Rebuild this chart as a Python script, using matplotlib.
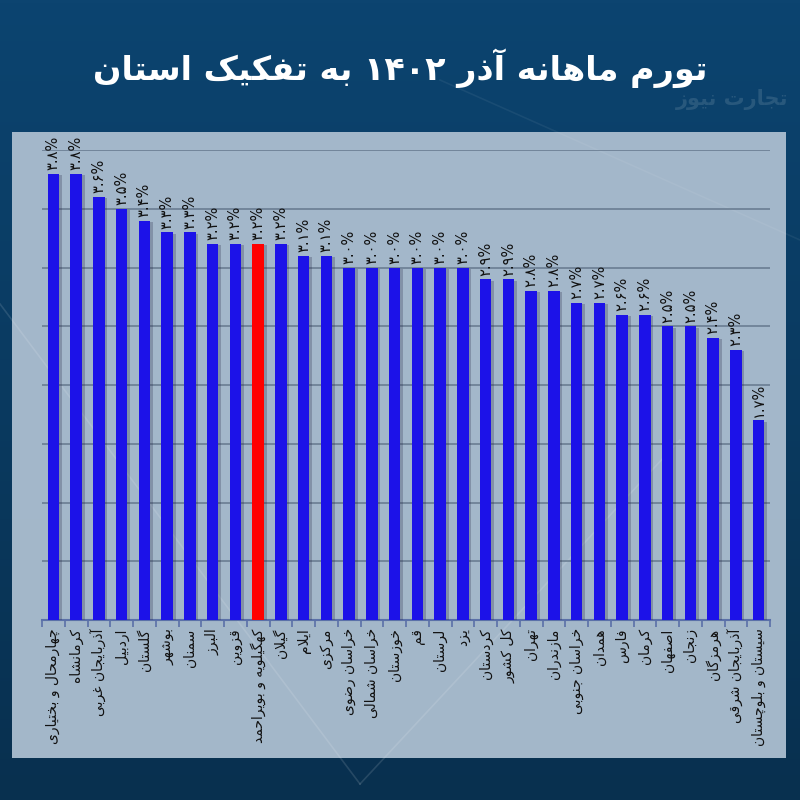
import re
import matplotlib
matplotlib.use("Agg")
import matplotlib.pyplot as plt
import matplotlib.patheffects as pe
from matplotlib.patches import Rectangle
import numpy as np

# provinces (logical Persian order) and monthly inflation, Azar 1402
provinces = [
    "چهارمحال و بختیاری", "کرمانشاه", "آذربایجان غربی", "اردبیل", "گلستان",
    "بوشهر", "سمنان", "البرز", "قزوین", "کهگیلویه و بویراحمد", "گیلان",
    "ایلام", "مرکزی", "خراسان رضوی", "خراسان شمالی", "خوزستان", "قم",
    "لرستان", "یزد", "کردستان", "کل کشور", "تهران", "مازندران",
    "خراسان جنوبی", "همدان", "فارس", "کرمان", "اصفهان", "زنجان",
    "هرمزگان", "آذربایجان شرقی", "سیستان و بلوچستان",
]
inflation = [3.8, 3.8, 3.6, 3.5, 3.4, 3.3, 3.3, 3.2, 3.2, 3.2, 3.2,
             3.1, 3.1, 3.0, 3.0, 3.0, 3.0, 3.0, 3.0, 2.9, 2.9, 2.8, 2.8,
             2.7, 2.7, 2.6, 2.6, 2.5, 2.5, 2.4, 2.3, 1.7]
highlight = "کهگیلویه و بویراحمد"
title = "تورم ماهانه آذر ۱۴۰۲ به تفکیک استان"

# --- minimal Persian shaping (presentation forms) + visual reordering ---
# (isolated, final, initial, medial); two entries = right-joining only
FORMS = {
    "ا": (0xFE8D, 0xFE8E), "آ": (0xFE81, 0xFE82),
    "ب": (0xFE8F, 0xFE90, 0xFE91, 0xFE92), "پ": (0xFB56, 0xFB57, 0xFB58, 0xFB59),
    "ت": (0xFE95, 0xFE96, 0xFE97, 0xFE98), "ث": (0xFE99, 0xFE9A, 0xFE9B, 0xFE9C),
    "ج": (0xFE9D, 0xFE9E, 0xFE9F, 0xFEA0), "چ": (0xFB7A, 0xFB7B, 0xFB7C, 0xFB7D),
    "ح": (0xFEA1, 0xFEA2, 0xFEA3, 0xFEA4), "خ": (0xFEA5, 0xFEA6, 0xFEA7, 0xFEA8),
    "د": (0xFEA9, 0xFEAA), "ذ": (0xFEAB, 0xFEAC), "ر": (0xFEAD, 0xFEAE),
    "ز": (0xFEAF, 0xFEB0), "ژ": (0xFB8A, 0xFB8B),
    "س": (0xFEB1, 0xFEB2, 0xFEB3, 0xFEB4), "ش": (0xFEB5, 0xFEB6, 0xFEB7, 0xFEB8),
    "ص": (0xFEB9, 0xFEBA, 0xFEBB, 0xFEBC), "ض": (0xFEBD, 0xFEBE, 0xFEBF, 0xFEC0),
    "ط": (0xFEC1, 0xFEC2, 0xFEC3, 0xFEC4), "ظ": (0xFEC5, 0xFEC6, 0xFEC7, 0xFEC8),
    "ع": (0xFEC9, 0xFECA, 0xFECB, 0xFECC), "غ": (0xFECD, 0xFECE, 0xFECF, 0xFED0),
    "ف": (0xFED1, 0xFED2, 0xFED3, 0xFED4), "ق": (0xFED5, 0xFED6, 0xFED7, 0xFED8),
    "ک": (0xFB8E, 0xFB8F, 0xFB90, 0xFB91), "گ": (0xFB92, 0xFB93, 0xFB94, 0xFB95),
    "ل": (0xFEDD, 0xFEDE, 0xFEDF, 0xFEE0), "م": (0xFEE1, 0xFEE2, 0xFEE3, 0xFEE4),
    "ن": (0xFEE5, 0xFEE6, 0xFEE7, 0xFEE8), "و": (0xFEED, 0xFEEE),
    "ه": (0xFEE9, 0xFEEA, 0xFEEB, 0xFEEC), "ی": (0xFBFC, 0xFBFD, 0xFBFE, 0xFBFF),
}
LAM_ALEF = {"ا": (0xFEFB, 0xFEFC), "آ": (0xFEF5, 0xFEF6)}


def shape(text):
    out = []
    i = 0
    n = len(text)
    while i < n:
        c = text[i]
        if c not in FORMS:
            out.append(c)
            i += 1
            continue
        prev = text[i - 1] if i > 0 else ""
        joins_prev = prev in FORMS and len(FORMS[prev]) == 4
        if c == "ل" and i + 1 < n and text[i + 1] in LAM_ALEF:
            lig = LAM_ALEF[text[i + 1]]
            out.append(chr(lig[1] if joins_prev else lig[0]))
            i += 2
            continue
        f = FORMS[c]
        nxt = text[i + 1] if i + 1 < n else ""
        joins_next = len(f) == 4 and nxt in FORMS
        if joins_prev and joins_next:
            out.append(chr(f[3]))
        elif joins_prev:
            out.append(chr(f[1]))
        elif joins_next:
            out.append(chr(f[2]))
        else:
            out.append(chr(f[0]))
        i += 1
    return "".join(out)


def fa(text):
    vis = shape(text)[::-1]
    # digits stay left-to-right
    return re.sub(r"[0-9\u06F0-\u06F9.%]+", lambda m: m.group(0)[::-1], vis)


def fa_num(v):
    s = f"{v:.1f}%"
    return s.translate(str.maketrans("0123456789", "۰۱۲۳۴۵۶۷۸۹"))


plt.rcParams["font.family"] = ["DejaVu Sans"]

fig = plt.figure(figsize=(8, 8), dpi=100)

# background
bg = fig.add_axes([0, 0, 1, 1], zorder=-10)
grad = np.linspace(0, 1, 256).reshape(-1, 1)
bg.imshow(grad, aspect="auto", extent=[0, 1, 0, 1], origin="upper",
          cmap=matplotlib.colors.LinearSegmentedColormap.from_list(
              "bgc", ["#0c4470", "#0a3a60", "#08304f"]))
bg.plot([0.0, 0.45], [0.62, 0.02], color="white", alpha=0.12, lw=1.2)
bg.plot([0.45, 0.85], [0.02, 0.45], color="white", alpha=0.12, lw=1.2)
bg.plot([0.55, 1.0], [0.9, 0.7], color="white", alpha=0.06, lw=1.2)
bg.set_xlim(0, 1)
bg.set_ylim(0, 1)
bg.axis("off")

# light panel
bg.add_patch(Rectangle((0.015, 0.0525), 0.9675, 0.7825,
                       facecolor="#aabdcf", edgecolor="none", alpha=0.96))

bg.text(0.915, 0.875, fa("تجارت نیوز"), color="white", alpha=0.12,
        fontsize=15, fontweight="bold", ha="center", va="center")

fig.text(0.5, 0.915, fa(title), color="white", fontsize=24,
         fontweight="bold", ha="center", va="center")

ax = fig.add_axes([0.0525, 0.225, 0.91, 0.5875])
ax.set_facecolor("none")

x = np.arange(len(provinces))
colors = ["#ff0000" if p == highlight else "#1c12e8" for p in provinces]
bars = ax.bar(x, inflation, width=0.5, color=colors, zorder=3)
for b in bars:
    b.set_path_effects([pe.SimplePatchShadow(offset=(2, -1), alpha=0.25,
                                             shadow_rgbFace="#202040"),
                        pe.Normal()])

for xi, v in zip(x, inflation):
    ax.text(xi, v + 0.03, fa_num(v), rotation=90, ha="center", va="bottom",
            fontsize=10.5, color="#111111", zorder=4)

ax.set_xlim(-0.5, len(provinces) - 0.5)
ax.set_ylim(0, 4)
ax.set_yticks(np.arange(0.5, 4.01, 0.5))
ax.yaxis.grid(True, color="#6a7d92", lw=1.2, zorder=0)
ax.tick_params(axis="y", left=False, labelleft=False)

ax.set_xticks(x)
ax.set_xticklabels([fa(p) for p in provinces], rotation=90, fontsize=10,
                   color="#111111")
ax.set_xticks(np.arange(-0.5, len(provinces), 1), minor=True)
ax.tick_params(axis="x", which="major", length=0, pad=6)
ax.tick_params(axis="x", which="minor", length=5, color="#5a70a8", width=1.2)

for s in ["top", "left", "right"]:
    ax.spines[s].set_visible(False)
ax.spines["bottom"].set_color("#5a70a8")
ax.spines["bottom"].set_linewidth(1.5)

fig.savefig("out.png", dpi=100)
